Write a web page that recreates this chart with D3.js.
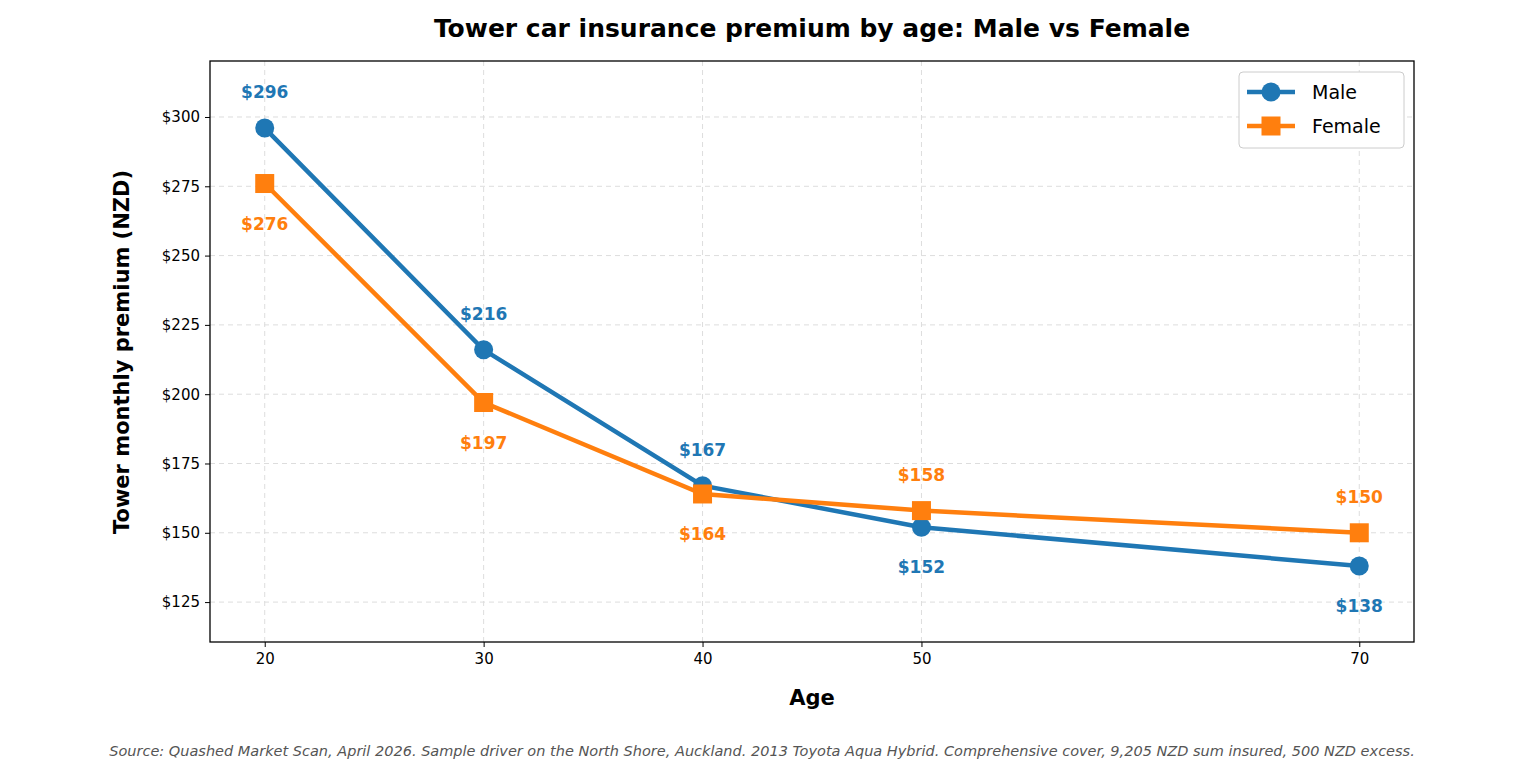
<!DOCTYPE html><html><head><meta charset="utf-8"><script src="https://cdn.jsdelivr.net/npm/d3@7"></script>
<style>body{margin:0;background:#fff}text{font-family:"DejaVu Sans",sans-serif}</style></head><body>
<svg id="c" width="1525" height="775"></svg>
<script>
const ages=[20,30,40,50,70];
const male=[296,216,167,152,138];
const female=[276,197,164,158,150];
const maleLabelPos=["above","above","above","below","below"];
const femaleLabelPos=["below","below","below","above","above"];
const yTicks=[125,150,175,200,225,250,275,300];
const svg=d3.select("#c");
const L=210,R=1414,T=61,B=642;
const x=d3.scaleLinear().domain([17.5,72.5]).range([L,R]);
const y=d3.scaleLinear().domain([110.6,320.2]).range([B,T]);
const g=svg.append("g");
// grid
g.selectAll(".gx").data(ages).enter().append("line").attr("x1",d=>x(d)).attr("x2",d=>x(d)).attr("y1",T).attr("y2",B).attr("stroke","#ddd").attr("stroke-dasharray","5,4");
g.selectAll(".gy").data(yTicks).enter().append("line").attr("x1",L).attr("x2",R).attr("y1",d=>y(d)).attr("y2",d=>y(d)).attr("stroke","#ddd").attr("stroke-dasharray","5,4");
const xa=svg.append("g").attr("transform",`translate(0,${B})`).call(d3.axisBottom(x).tickValues(ages).tickSize(5).tickPadding(6));
const ya=svg.append("g").attr("transform",`translate(${L},0)`).call(d3.axisLeft(y).tickValues(yTicks).tickFormat(d=>"$"+d).tickSize(5).tickPadding(5));
[xa,ya].forEach(a=>{a.select(".domain").remove();a.selectAll("text").attr("font-size",15).attr("fill","#000").style("font-family","DejaVu Sans");});
svg.append("rect").attr("x",L).attr("y",T).attr("width",R-L).attr("height",B-T).attr("fill","none").attr("stroke","#000").attr("stroke-width",1.3);
const line=d3.line().x((d,i)=>x(ages[i])).y(d=>y(d));
const series=[{v:male,c:"#1f77b4",shape:"circle",pos:maleLabelPos},{v:female,c:"#ff7f0e",shape:"square",pos:femaleLabelPos}];
series.forEach(s=>{
 svg.append("path").attr("d",line(s.v)).attr("fill","none").attr("stroke",s.c).attr("stroke-width",4.5);
 s.v.forEach((v,i)=>{
  if(s.shape=="circle")svg.append("circle").attr("cx",x(ages[i])).attr("cy",y(v)).attr("r",9.5).attr("fill",s.c);
  else svg.append("rect").attr("x",x(ages[i])-9.5).attr("y",y(v)-9.5).attr("width",19).attr("height",19).attr("fill",s.c);
  svg.append("text").attr("x",x(ages[i])).attr("y",y(v)+(s.pos[i]=="above"?-30:46)).attr("text-anchor","middle").attr("font-size",17).attr("font-weight","bold").attr("fill",s.c).text("$"+v);
 });
});
// legend
const lg=svg.append("g");
lg.append("rect").attr("x",1239).attr("y",72).attr("width",165).attr("height",76).attr("rx",4).attr("fill","#fff").attr("stroke","#ccc");
series.forEach((s,i)=>{const yy=92+i*34;
 lg.append("line").attr("x1",1247).attr("x2",1295).attr("y1",yy).attr("y2",yy).attr("stroke",s.c).attr("stroke-width",4.5);
 if(s.shape=="circle")lg.append("circle").attr("cx",1271).attr("cy",yy).attr("r",9.5).attr("fill",s.c);
 else lg.append("rect").attr("x",1261.5).attr("y",yy-9.5).attr("width",19).attr("height",19).attr("fill",s.c);
 lg.append("text").attr("x",1312).attr("y",yy+7).attr("font-size",19).text(["Male","Female"][i]);
});
svg.append("text").attr("x",812).attr("y",37).attr("text-anchor","middle").attr("font-size",25).attr("font-weight","bold").text("Tower car insurance premium by age: Male vs Female");
svg.append("text").attr("x",812).attr("y",705).attr("text-anchor","middle").attr("font-size",21).attr("font-weight","bold").text("Age");
svg.append("text").attr("transform","translate(129,352) rotate(-90)").attr("text-anchor","middle").attr("font-size",21).attr("font-weight","bold").text("Tower monthly premium (NZD)");
svg.append("text").attr("x",762).attr("y",756).attr("text-anchor","middle").attr("font-size",14.5).attr("font-style","italic").attr("fill","#555").text("Source: Quashed Market Scan, April 2026. Sample driver on the North Shore, Auckland. 2013 Toyota Aqua Hybrid. Comprehensive cover, 9,205 NZD sum insured, 500 NZD excess.");
</script></body></html>
